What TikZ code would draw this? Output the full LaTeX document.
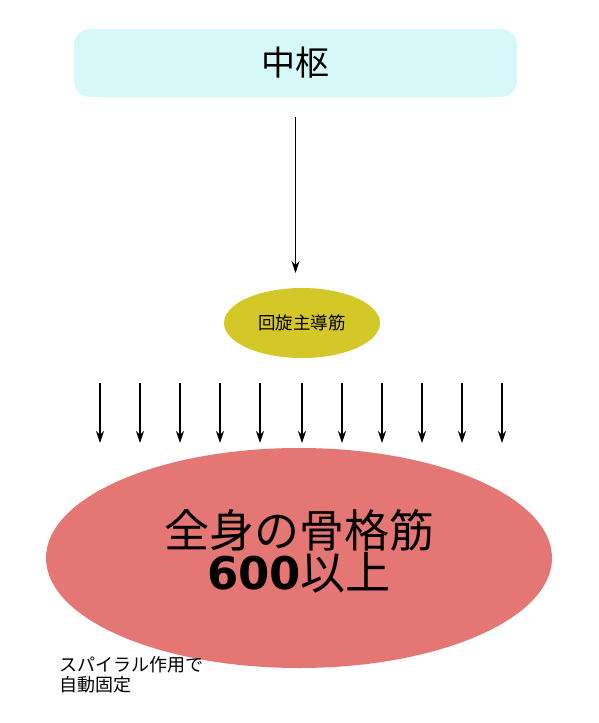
\documentclass[tikz,border=0pt]{standalone}
\usepackage{fontspec}
\setmainfont{Noto Sans CJK JP}
\newfontfamily\digitfont{DejaVu Sans}
\usetikzlibrary{arrows.meta,shapes.geometric}
\definecolor{boxcyan}{RGB}{214,248,248}
\definecolor{olive}{RGB}{212,199,40}
\definecolor{salmon}{RGB}{228,118,116}
\tikzset{
  arr/.style={line width=1.6pt,-{Stealth[length=12pt,width=8pt]}},
}
\begin{document}
\begin{tikzpicture}[x=1pt,y=-1pt]
\useasboundingbox[fill=white] (0,0) rectangle (599,723);
\node[fill=boxcyan, rounded corners=16pt, minimum width=443pt, minimum height=68pt, inner sep=0pt, font=\fontsize{34}{38}\selectfont] (top) at (295.5,63) {中枢};
\node[ellipse, fill=olive, minimum width=156pt, minimum height=70pt, inner sep=0pt, font=\fontsize{17.5}{20}\selectfont] (rot) at (302,323) {回旋主導筋};
\node[ellipse, fill=salmon, minimum width=506pt, minimum height=220pt, inner sep=0pt] (all) at (299,558) {};
\node[align=center, inner sep=0pt, font=\fontsize{45}{46}\selectfont] (alltext) at (299,551) {全身の骨格筋\\[-4pt]{\digitfont\bfseries 600}以上};
\node[anchor=north west, align=left, inner sep=0pt, font=\fontsize{18}{20}\selectfont] (note) at (59,656) {スパイラル作用で\\自動固定};
\draw[arr] (top.south) ++(0,20) coordinate (s0) -- (s0 |- 0,273) coordinate (e0);
\foreach \i/\x in {1/100,2/140,3/180,4/220,5/260,6/302,7/342,8/382,9/422,10/462,11/502}{
  \coordinate (s\i) at (\x,383);
  \coordinate (e\i) at (\x,443);
  \draw[arr] (s\i) -- (e\i);
}
\end{tikzpicture}
\end{document}
